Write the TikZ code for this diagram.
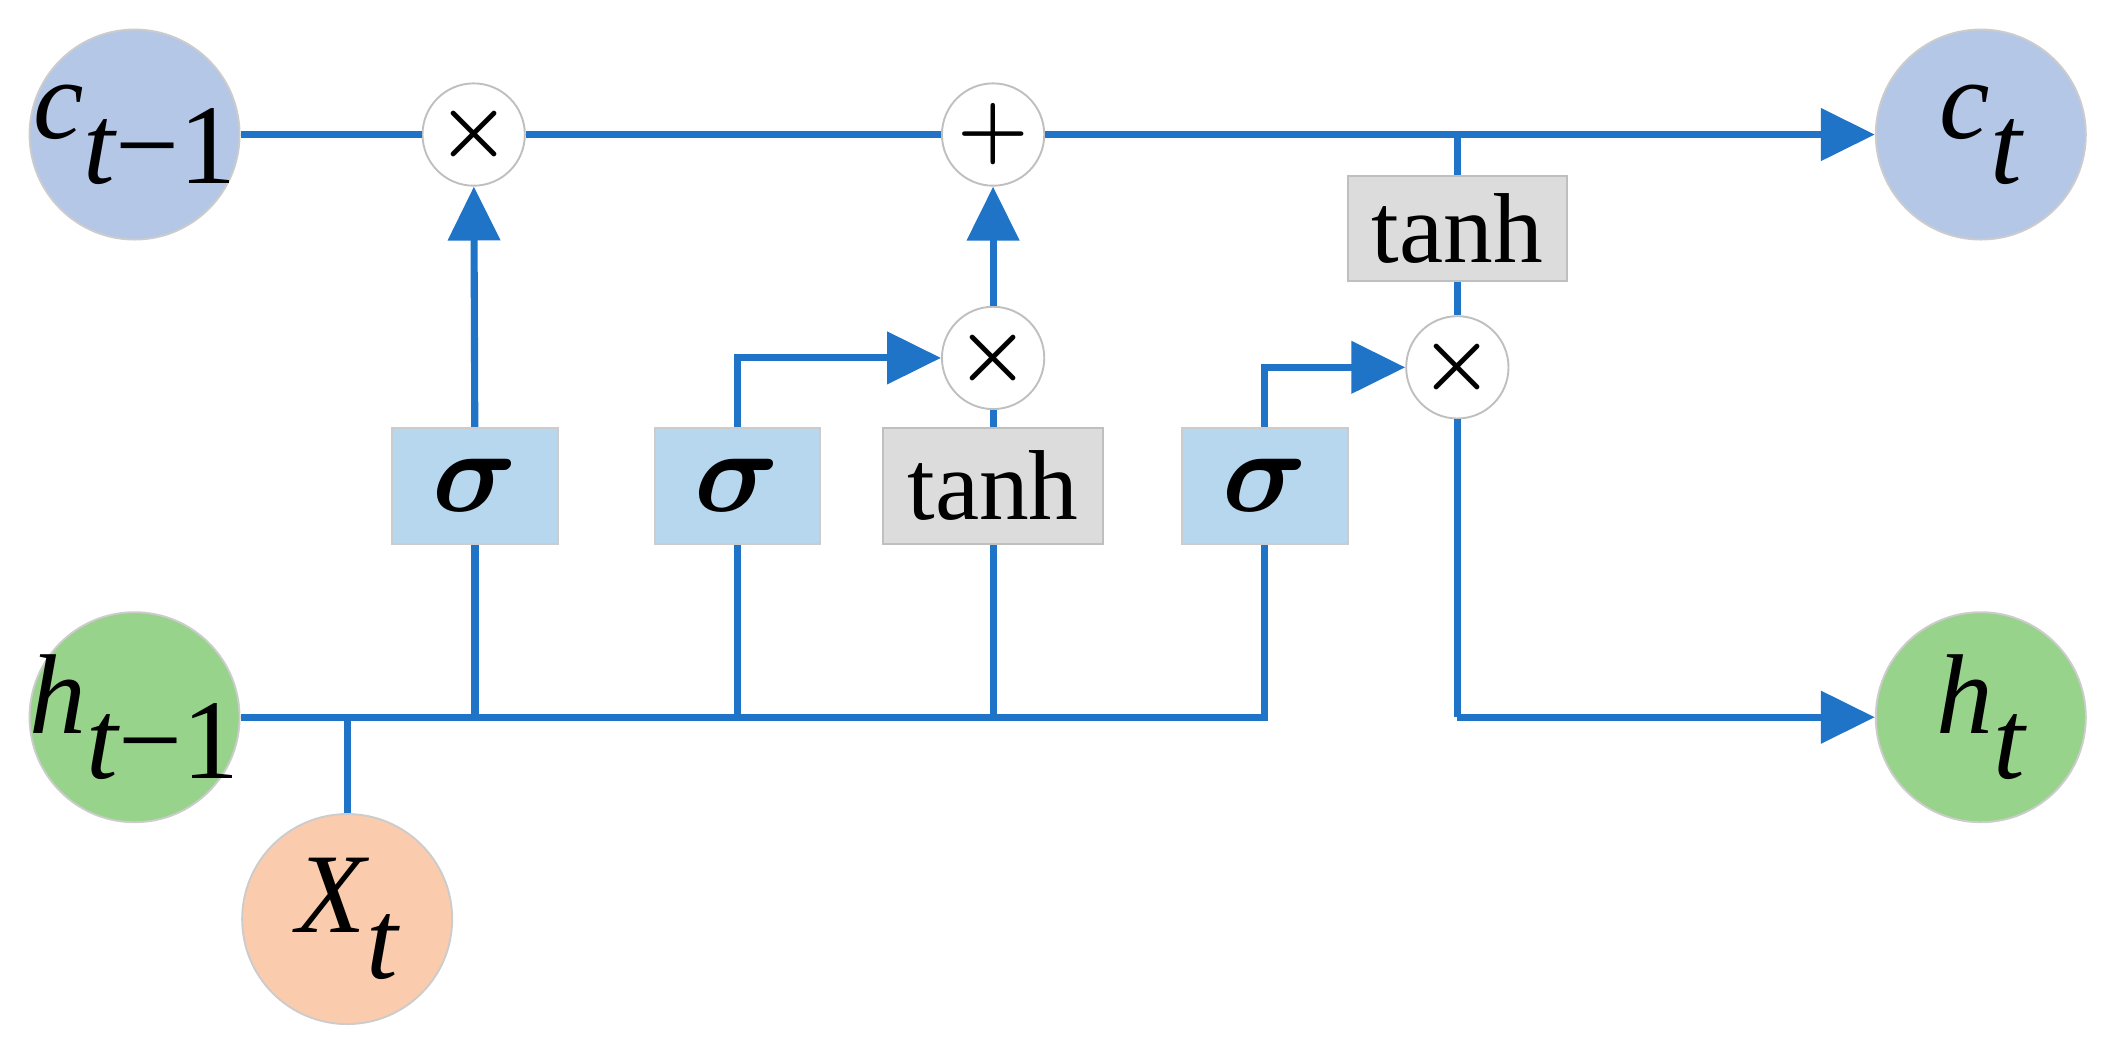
\documentclass[tikz,border=0pt]{standalone}
\usepackage{fontspec}
\setmainfont{Liberation Serif}
\usetikzlibrary{arrows.meta}
\definecolor{lb}{HTML}{B4C7E7}
\definecolor{gr}{HTML}{98D38B}
\definecolor{pe}{HTML}{FBCBAD}
\definecolor{bx}{HTML}{B6D7EE}
\definecolor{gy}{HTML}{DCDCDC}
\definecolor{ln}{HTML}{1F74C8}
\tikzset{
 big/.style={circle,minimum size=1.56cm,inner sep=0,draw=black!20,font=\fontsize{24}{24}\selectfont\itshape},
 op/.style={circle,minimum size=0.76cm,inner sep=0,draw=black!25,fill=white,font=\fontsize{16}{16}\selectfont\boldmath},
 sbox/.style={rectangle,minimum width=1.23cm,minimum height=0.86cm,fill=bx,draw=black!20,inner sep=0,font=\fontsize{26}{26}\selectfont\boldmath},
 tbox/.style={rectangle,minimum width=1.63cm,inner sep=0,fill=gy,draw=black!25,font=\fontsize{21}{21}\selectfont},
 w/.style={draw=ln,line width=1.5pt},
 a/.style={w,-{Triangle[length=0.4cm,width=0.38cm]}}
}
\newcommand{\sub}[2]{\makebox[0pt]{#1\raisebox{-0.4em}{#2}}}
\begin{document}
\begin{tikzpicture}[x=0.01cm,y=-0.01cm]
\useasboundingbox (0,0) rectangle (1568,777);
\node[big,fill=lb] (c0) at (100,100) {\sub{c}{t\upshape−1}};
\node[big,fill=lb] (c1) at (1472,100) {\sub{c}{t}};
\node[big,fill=gr] (h0) at (100,533) {\sub{h}{t\upshape−1}};
\node[big,fill=gr] (h1) at (1472,533) {\sub{h}{t}};
\node[big,fill=pe] (x) at (258,683) {\sub{X}{t}};
\node[op] (m1) at (352,100) {$\times$};
\node[op] (p) at (738,100) {$+$};
\node[op] (m2) at (738,266) {$\times$};
\node[op] (m3) at (1083,273) {$\times$};
\node[sbox] (s1) at (353,361) {$\sigma$};
\node[sbox] (s2) at (548,361) {$\sigma$};
\node[tbox,minimum height=0.86cm] (t1) at (738,361) {tanh};
\node[sbox] (s3) at (940,361) {$\sigma$};
\node[tbox,minimum height=0.78cm] (t2) at (1083,170) {tanh};
\coordinate (jx) at (258,533);
\coordinate (b1) at (353,533);
\coordinate (b2) at (548,533);
\coordinate (b3) at (738,533);
\coordinate (b4) at (940,533);
\coordinate (jt) at (1083,100);
\coordinate (jh) at (1083,533);
\draw[w] (c0) -- (m1); \draw[w] (m1) -- (p); \draw[a] (p) -- (c1);
\draw[w] (h0.east) -- (b4) -- (s3);
\draw[w] (x) -- (jx);
\draw[w] (b1) -- (s1); \draw[w] (b2) -- (s2); \draw[w] (b3) -- (t1);
\draw[a] (s1) -- (m1);
\draw[a] (s2.north) |- (m2);
\draw[w] (t1) -- (m2);
\draw[a] (m2) -- (p);
\draw[a] (s3.north) |- (m3);
\draw[w] (jt) -- (t2); \draw[w] (t2) -- (m3);
\draw[w] (m3) -- (jh); \draw[a] (jh) -- (h1);
\end{tikzpicture}
\end{document}
